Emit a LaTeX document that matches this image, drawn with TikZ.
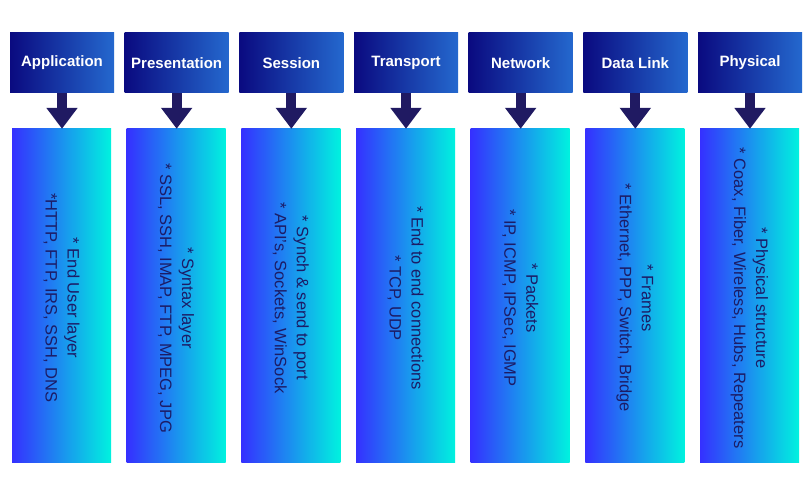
\documentclass[tikz,border=0pt]{standalone}
\usepackage{fontspec}
\setmainfont{Liberation Sans}
\usetikzlibrary{arrows.meta}
\definecolor{hdl}{HTML}{0A0A80}
\definecolor{hdr}{HTML}{2468CE}
\definecolor{bdl}{HTML}{3530FF}
\definecolor{bdr}{HTML}{00F2DF}
\definecolor{arr}{HTML}{201A62}
\definecolor{txt}{HTML}{1C1C66}
\begin{document}
\begin{tikzpicture}[x=1pt,y=-1pt,
 head/.style={minimum width=104pt,minimum height=60pt,inner sep=0pt,left color=hdl,right color=hdr,font=\bfseries\fontsize{15}{18}\selectfont,text=white},
 body/.style={minimum width=99pt,minimum height=333pt,inner sep=0pt,left color=bdl,right color=bdr},
 btext/.style={rotate=-90,align=center,text=txt,font=\fontsize{16.5}{22}\selectfont,xshift=2.5pt},
 down/.style={draw=arr,line width=10pt,-{Triangle[width=30pt,length=21pt]}}]
\useasboundingbox[fill=white] (0,0) rectangle (812,500);
% headers
\node[head] (h1) at (62,63) {Application};
\node[head] (h2) at (176.67,63) {Presentation};
\node[head] (h3) at (291.33,63) {Session};
\node[head] (h4) at (406,63) {Transport};
\node[head] (h5) at (520.67,63) {Network};
\node[head] (h6) at (635.33,63) {Data Link};
\node[head] (h7) at (750,63) {Physical};
% bodies
\node[body] (b1) at (61.5,295.5) {};
\node[body] (b2) at (176.17,295.5) {};
\node[body] (b3) at (290.83,295.5) {};
\node[body] (b4) at (405.5,295.5) {};
\node[body] (b5) at (520.17,295.5) {};
\node[body] (b6) at (634.83,295.5) {};
\node[body] (b7) at (749.5,295.5) {};
% texts
\node[btext] (t1) at (b1.center) {* End User layer\\*HTTP, FTP, IRS, SSH, DNS};
\node[btext] (t2) at (b2.center) {* Syntax layer\\* SSL, SSH, IMAP, FTP, MPEG, JPG};
\node[btext] (t3) at (b3.center) {* Synch \& send to port\\* API's, Sockets, WinSock};
\node[btext] (t4) at (b4.center) {* End to end connections\\* TCP, UDP};
\node[btext] (t5) at (b5.center) {* Packets\\* IP, ICMP, IPSec, IGMP};
\node[btext] (t6) at (b6.center) {* Frames\\* Ethernet, PPP, Switch, Bridge};
\node[btext] (t7) at (b7.center) {* Physical structure\\* Coax, Fiber, Wireless, Hubs, Repeaters};
% arrows
\foreach \i in {1,...,7}{
  \draw[down] (h\i.south) -- (h\i.south |- b\i.north);
}
\end{tikzpicture}
\end{document}
